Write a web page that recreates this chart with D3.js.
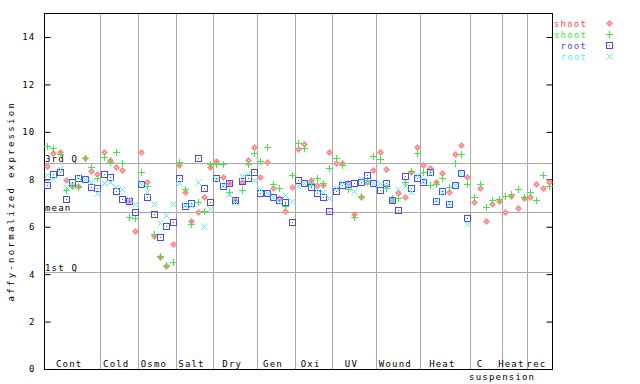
<!DOCTYPE html>
<html>
<head>
<meta charset="utf-8">
<script src="https://cdn.jsdelivr.net/npm/d3@7"></script>
<style>
  body { margin: 0; background: #fff; }
  svg text { font-family: "DejaVu Sans Mono", monospace; font-size: 9px; letter-spacing: 1.2px; }
</style>
</head>
<body>
<svg id="chart" width="640" height="384"></svg>
<script>
// group labels along the x axis and how many samples each one has
var groups = ["Cont", "Cold", "Osmo", "Salt", "Dry", "Gen", "Oxi", "UV", "Wound", "Heat", "C", "Heat", "rec"];
var groupSizes = [9, 6, 6, 6, 7, 6, 6, 7, 7, 8, 5, 4, 4];

var yTicks = [0, 2, 4, 6, 8, 10, 12, 14];

// reference lines
var thirdQ = 8.69;
var mean = 6.62;
var firstQ = 4.09;

// shoot, first probe (red diamonds)
var shootA = [8.57, 9.10, 9.13, 7.97, 7.70, 7.72, 8.89, 8.35, 8.21,
  9.17, 8.82, 8.53, 8.41, 7.09, 5.83,
  9.14, 7.87, 5.60, 4.74, 4.34, 5.27,
  8.60, 7.48, 6.26, 6.64, 7.24, 8.51,
  8.77, 8.08, 7.83, 7.13, 7.90, 8.81, 9.35,
  8.08, 8.74, 7.62, 7.20, 6.66, 7.66,
  9.26, 9.49, 7.97, 7.76, 7.76, 9.17,
  8.67, 8.67, 7.83, 6.54, 7.24, 7.90, 8.39,
  9.14, 8.42, 7.13, 7.41, 7.24, 8.29, 9.38,
  8.60, 8.46, 7.87, 8.25, 7.48, 9.05, 9.45, 8.08,
  7.03, 7.62, 6.24, 6.94, 7.10,
  6.60, 7.31, 6.77, 7.20,
  7.27, 7.80, 7.62, 7.90];

// shoot, second probe (green plus)
var shootB = [9.41, 9.31, 9.07, 7.55, 7.72, 7.69, 8.89, 8.52, 8.04,
  8.93, 8.75, 9.15, 8.67, 6.40, 6.35,
  8.29, 7.73, 5.68, 4.78, 4.39, 4.50,
  8.74, 7.58, 6.12, 7.06, 6.65, 8.63,
  8.63, 8.63, 7.48, 7.13, 7.55, 8.63, 9.10,
  8.77, 9.35, 7.80, 7.62, 6.89, 8.18,
  9.52, 9.31, 7.83, 8.04, 7.83, 8.46,
  8.89, 8.60, 7.58, 6.43, 7.30, 7.95, 8.98,
  8.84, 7.62, 7.20, 7.20, 7.87, 8.35, 9.10,
  8.32, 7.76, 7.80, 8.04, 7.69, 8.70, 9.07, 7.80,
  7.24, 7.80, 6.82, 7.13, 7.16,
  7.30, 7.38, 7.58, 7.27,
  7.45, 7.13, 8.18, 7.72];

// root, first probe (blue squares)
var rootA = [7.76, 8.22, 8.29, 7.17, 7.90, 8.04, 8.03, 7.66, 7.62,
  8.22, 8.08, 7.51, 7.17, 7.09, 6.61,
  7.80, 7.24, 6.54, 5.55, 6.03, 6.19,
  8.04, 6.87, 6.99, 8.89, 7.62, 7.03,
  8.04, 7.72, 7.83, 7.13, 7.94, 8.04, 8.32,
  7.41, 7.44, 7.27, 7.13, 7.03, 6.21,
  7.97, 7.86, 7.66, 7.44, 7.24, 6.66,
  7.52, 7.76, 7.80, 7.83, 7.90, 8.18, 7.86,
  7.55, 7.83, 7.13, 6.71, 8.14, 7.62, 8.04,
  7.90, 8.29, 7.10, 7.51, 6.96, 7.76, 8.25, 6.35,
  null, null, null, null, null,
  null, null, null, null,
  null, null, null, null];

// root, second probe (cyan crosses)
var rootB = [8.18, 8.00, 8.44, 7.66, 7.80, 8.11, 8.00, 7.90, 7.44,
  7.83, 7.87, 7.66, 7.59, 7.16, 6.96,
  7.82, 7.45, 6.96, 6.14, 6.50, 6.96,
  7.86, 6.92, 6.90, 7.90, 6.03, 6.75,
  8.02, 7.74, 7.40, 7.06, 8.14, 8.25, 7.97,
  7.58, 7.44, 7.27, 7.03, 7.34, 7.09,
  7.72, 7.86, 7.80, 7.60, 7.45, 7.20,
  7.65, 7.90, 7.82, 7.52, 8.00, 7.90, 7.86,
  7.86, 7.72, 7.13, 7.58, 7.73, 7.45, 8.18,
  7.92, 8.25, 7.12, 7.45, 6.98, 7.76, 8.25, 6.10,
  null, null, null, null, null,
  null, null, null, null,
  null, null, null, null];

var series = [
  {name: "shoot", values: shootA, color: "#ff4848", shape: "diamond"},
  {name: "shoot", values: shootB, color: "#40e840", shape: "plus"},
  {name: "root", values: rootA, color: "#4848ff", shape: "square"},
  {name: "root", values: rootB, color: "#55f0f0", shape: "cross"}
];

var svg = d3.select("#chart");
var plotLeft = 44, plotRight = 552, plotTop = 13.3, plotBottom = 369;
var nSamples = d3.sum(groupSizes);

var x = d3.scaleLinear().domain([0, nSamples]).range([plotLeft, plotRight]);
var y = d3.scaleLinear().domain([0, 15]).range([plotBottom, plotTop]);

function px(v) { return Math.round(v) + 0.5; }

// group separators
var bounds = [];
var acc = 0;
groupSizes.forEach(function(n) { bounds.push([acc, acc + n]); acc += n; });

svg.append("g")
  .selectAll("line")
  .data(bounds.slice(1))
  .enter().append("line")
    .attr("x1", function(d) { return px(x(d[0])); })
    .attr("x2", function(d) { return px(x(d[0])); })
    .attr("y1", plotTop)
    .attr("y2", plotBottom)
    .attr("stroke", "#aaa");

// quartile / mean lines
var guides = [[thirdQ, "3rd Q"], [mean, "mean"], [firstQ, "1st Q"]];
svg.append("g")
  .selectAll("line")
  .data(guides)
  .enter().append("line")
    .attr("x1", plotLeft)
    .attr("x2", plotRight)
    .attr("y1", function(d) { return px(y(d[0])); })
    .attr("y2", function(d) { return px(y(d[0])); })
    .attr("stroke", "#aaa");

svg.append("g")
  .selectAll("text")
  .data(guides)
  .enter().append("text")
    .attr("x", plotLeft + 1)
    .attr("y", function(d) { return Math.round(y(d[0])) - 1; })
    .attr("fill", "#000")
    .text(function(d) { return d[1]; });

// axes
var yAxis = d3.axisLeft(y).tickValues(yTicks).tickSize(-6).tickPadding(9).tickFormat(d3.format("d"));
var gy = svg.append("g").attr("transform", "translate(" + (plotLeft + 0.5) + ",0)").call(yAxis);
gy.select(".domain").remove();
gy.selectAll("text").style("font-family", "DejaVu Sans Mono").style("font-size", "9px");

var yAxisR = d3.axisRight(y).tickValues(yTicks).tickSize(-6).tickFormat("");
var gr = svg.append("g").attr("transform", "translate(" + (plotRight + 0.5) + ",0)").call(yAxisR);
gr.select(".domain").remove();

svg.append("rect")
  .attr("x", plotLeft + 0.5)
  .attr("y", Math.round(plotTop) + 0.5)
  .attr("width", plotRight - plotLeft)
  .attr("height", plotBottom - Math.round(plotTop))
  .attr("fill", "none")
  .attr("stroke", "#000");

// group labels
svg.append("g")
  .selectAll("text")
  .data(bounds)
  .enter().append("text")
    .attr("x", function(d, i) {
      var c = (x(d[0]) + x(d[1])) / 2 - 3;
      if (groups[i] == "C") c = c - 3;
      return c;
    })
    .attr("y", plotBottom - 2)
    .attr("text-anchor", "middle")
    .text(function(d, i) { return groups[i]; });

svg.append("text")
  .attr("x", (x(bounds[10][0]) + x(bounds[10][1])) / 2 + 16)
  .attr("y", plotBottom + 11)
  .attr("text-anchor", "middle")
  .text("suspension");

// y label
svg.append("text")
  .attr("transform", "translate(14," + ((plotTop + plotBottom) / 2 + 10) + ") rotate(-90)")
  .attr("text-anchor", "middle")
  .style("letter-spacing", "2.3px")
  .text("affy-normalized expression");

// markers
function drawMarker(g, shape, color) {
  if (shape == "diamond") {
    g.append("path").attr("d", "M0,-3.5L3.5,0L0,3.5L-3.5,0Z").attr("fill", "#ff8c8c");
    g.append("rect").attr("x", -0.5).attr("y", -0.5).attr("width", 1).attr("height", 1).attr("fill", "#fff");
  } else if (shape == "plus") {
    g.append("path").attr("d", "M-3.5,0H3.5M0,-3.5V3.5").attr("stroke", color)
      .attr("shape-rendering", "crispEdges");
  } else if (shape == "square") {
    g.append("rect").attr("x", -3).attr("y", -3).attr("width", 6).attr("height", 6)
      .attr("fill", "none").attr("stroke", color).attr("shape-rendering", "crispEdges");
    g.append("rect").attr("x", -0.5).attr("y", -0.5).attr("width", 1).attr("height", 1).attr("fill", color);
  } else {
    g.append("path").attr("d", "M-3,-3L3,3M-3,3L3,-3").attr("stroke", color);
  }
}

series.forEach(function(s) {
  var pts = [];
  s.values.forEach(function(v, i) { if (v != null) pts.push([i, v]); });
  svg.append("g")
    .selectAll("g")
    .data(pts)
    .enter().append("g")
      .attr("transform", function(d) { return "translate(" + px(x(d[0] + 0.5)) + "," + px(y(d[1])) + ")"; })
      .each(function() { drawMarker(d3.select(this), s.shape, s.color); });
});

// legend
var legend = svg.append("g")
  .selectAll("g")
  .data(series)
  .enter().append("g")
    .attr("transform", function(d, i) { return "translate(0," + (23.5 + i * 11) + ")"; });

legend.append("text")
  .attr("x", 587)
  .attr("y", 3)
  .attr("text-anchor", "end")
  .attr("fill", function(d) { return d.color; })
  .text(function(d) { return d.name; });

legend.append("g")
  .attr("transform", "translate(609.5,0)")
  .each(function(d) { drawMarker(d3.select(this), d.shape, d.color); });
</script>
</body>
</html>
